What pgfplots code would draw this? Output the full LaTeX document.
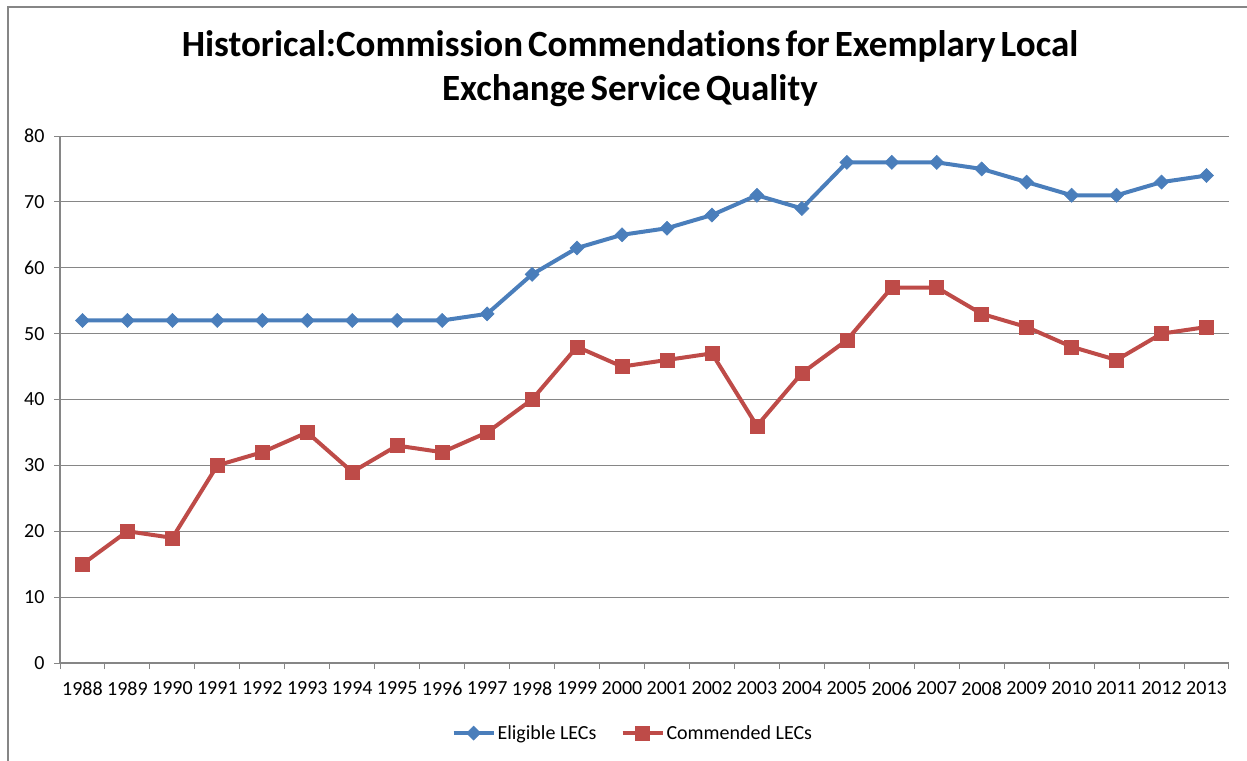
\documentclass[border=0pt]{standalone}
\usepackage{pgfplots}
\pgfplotsset{compat=1.18}
\usepackage{fontspec}
\setmainfont{Carlito}[Ligatures=NoCommon]
\newfontfamily\titlefont{Carlito}[WordSpace=0.6, Ligatures=NoCommon]
\definecolor{eblue}{HTML}{4A7EBB}
\definecolor{cred}{HTML}{BE4B48}
\definecolor{gridc}{HTML}{868686}
\begin{document}
\begin{tikzpicture}
\path[use as bounding box] (0bp,0bp) rectangle (1247bp,761bp);
\draw[gridc, line width=1.2bp] (8bp,-2bp) -- (8bp,754bp) -- (1250bp,754bp);
\node[anchor=base, font=\titlefont\fontsize{37bp}{43bp}\selectfont\bfseries] at (630bp,704bp) {Historical:Commission Commendations for Exemplary Local};
\node[anchor=base, font=\titlefont\fontsize{37bp}{43bp}\selectfont\bfseries] at (630bp,660bp) {Exchange Service Quality};
\begin{axis}[
  at={(60bp,98bp)}, anchor=south west,
  width=1169bp, height=527bp, scale only axis,
  xmin=-0.5, xmax=25.5, ymin=0, ymax=80,
  ytick={0,10,...,80},
  xtick={0,...,25},
  xticklabels={1988,1989,1990,1991,1992,1993,1994,1995,1996,1997,1998,1999,2000,2001,2002,2003,2004,2005,2006,2007,2008,2009,2010,2011,2012,2013},
  minor xtick={-0.5,0.5,...,25.5},
  major x tick style={draw=none},
  tick align=outside,
  major tick length=6bp, minor tick length=6bp,
  tick style={gridc, line width=1bp},
  axis x line*=bottom, axis y line*=left,
  axis line style={gridc, line width=1.2bp, -},
  ymajorgrids, major grid style={gridc, line width=1bp},
  tick label style={font=\fontsize{20bp}{23bp}\selectfont},
  /pgf/number format/assume math mode=true,
  xticklabel style={yshift=-9bp},
  yticklabel style={xshift=-6bp},
  clip=false,
  legend style={at={(0.49,-0.133)}, anchor=center, draw=none, font=\fontsize{20bp}{23bp}\selectfont,
    legend columns=2, /tikz/every even column/.append style={column sep=22bp}},
  legend cell align=left,
  legend image code/.code={\draw[#1, mark repeat=2, mark phase=2] plot coordinates {(0bp,0bp) (20bp,0bp) (40bp,0bp)};},
]
\addplot[eblue, line width=4bp, mark=square*, mark size=5bp, mark options={solid, fill=eblue, line width=0.5bp, rotate=45}] coordinates {
(0,52)(1,52)(2,52)(3,52)(4,52)(5,52)(6,52)(7,52)(8,52)(9,53)(10,59)(11,63)(12,65)(13,66)(14,68)(15,71)(16,69)(17,76)(18,76)(19,76)(20,75)(21,73)(22,71)(23,71)(24,73)(25,74)};
\addlegendentry{Eligible LECs}
\addplot[cred, line width=4bp, mark=square*, mark size=7bp, mark options={solid, fill=cred, line width=0.5bp}] coordinates {
(0,15)(1,20)(2,19)(3,30)(4,32)(5,35)(6,29)(7,33)(8,32)(9,35)(10,40)(11,48)(12,45)(13,46)(14,47)(15,36)(16,44)(17,49)(18,57)(19,57)(20,53)(21,51)(22,48)(23,46)(24,50)(25,51)};
\addlegendentry{Commended LECs}
\end{axis}
\end{tikzpicture}
\end{document}
